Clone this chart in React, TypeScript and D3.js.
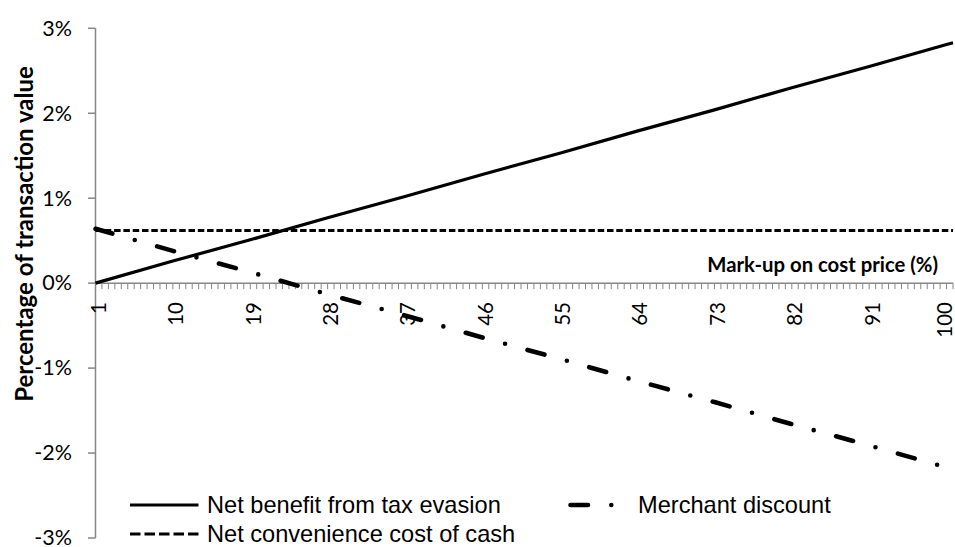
import * as d3 from 'd3';

const markupPoints = [1, 10, 19, 28, 37, 46, 55, 64, 73, 82, 91, 100, 100.75];
const markupLabels = [1, 10, 19, 28, 37, 46, 55, 64, 73, 82, 91, 100];

// series, in percent of transaction value
const netBenefit = [0.0, 0.26, 0.51, 0.77, 1.02, 1.28, 1.53, 1.79, 2.04, 2.3, 2.55, 2.81, 2.83];
const merchantDiscount = [0.64, 0.38, 0.13, -0.13, -0.38, -0.64, -0.89, -1.15, -1.4, -1.66, -1.91, -2.17, -2.19];
const convenienceCost = [0.62, 0.62, 0.62, 0.62, 0.62, 0.62, 0.62, 0.62, 0.62, 0.62, 0.62, 0.62, 0.62];

const yTicks = [3, 2, 1, 0, -1, -2, -3];

const W = 955;
const H = 547;
const axisX = 95.5;
const plotTop = 28.3;
const plotBottom = 538;
const xStart = 95.5;
const xEnd = 953;

const axisColor = '#868686';
const calibri = 'Lato, "Open Sans", sans-serif';
const arial = '"Liberation Sans", Arial, sans-serif';

const mdDash = '17.5 23.3 0 23.3';

export default function App() {
    const x = d3.scaleLinear().domain([1, 100.75]).range([xStart, xEnd]);
    const y = d3.scaleLinear().domain([-3, 3]).range([plotBottom, plotTop]);

    const line = (vals: number[]) =>
        d3.line<number>()
            .x((_, i) => x(markupPoints[i]))
            .y((d) => y(d))(vals) || '';

    const minorTicks = d3.range(1, 100.76, 0.75);
    const zeroY = y(0);

    const row1 = 505;
    const row2 = 534;

    return (
        <svg width={W} height={H} style={{ position: 'absolute', left: 0, top: 0, background: '#fff' }}>
            {/* y axis */}
            <line x1={axisX} x2={axisX} y1={plotTop} y2={plotBottom} stroke={axisColor} strokeWidth={1.5} />
            {yTicks.map((t) => (
                <g key={t}>
                    <line x1={88} x2={axisX} y1={y(t)} y2={y(t)} stroke={axisColor} strokeWidth={1.5} />
                    <text x={72} y={y(t)} dy="0.34em" textAnchor="end" fontFamily={calibri} fontSize={21.5} fill="#000">
                        {`${t}%`}
                    </text>
                </g>
            ))}
            <text
                transform={`translate(24.5, 234) rotate(-90)`}
                textAnchor="middle"
                dy="0.36em"
                fontFamily={calibri}
                fontWeight="bold"
                fontSize={24}
                fill="#000"
            >
                Percentage of transaction value
            </text>

            {/* x axis */}
            <line x1={axisX} x2={xEnd} y1={zeroY} y2={zeroY} stroke={axisColor} strokeWidth={1.5} />
            {minorTicks.map((t) => (
                <line key={t} x1={x(t)} x2={x(t)} y1={zeroY} y2={zeroY + 6} stroke={axisColor} strokeWidth={1} />
            ))}
            {markupLabels.map((t) => (
                <text
                    key={t}
                    transform={`translate(${Math.min(x(t) + 3, 944.5)}, 302) rotate(-90)`}
                    textAnchor="end"
                    dy="0.36em"
                    fontFamily={calibri}
                    fontSize={20.5}
                    fill="#000"
                >
                    {t}
                </text>
            ))}
            <text x={938} y={265} dy="0.36em" textAnchor="end" fontFamily={calibri} fontWeight="bold" fontSize={20.3} fill="#000">
                Mark-up on cost price (%)
            </text>

            {/* series */}
            <path d={line(convenienceCost)} fill="none" stroke="#000" strokeWidth={3} strokeDasharray="6.5 2.8" />
            <path d={line(netBenefit)} fill="none" stroke="#000" strokeWidth={3.2} />
            <path
                d={line(merchantDiscount)}
                fill="none"
                stroke="#000"
                strokeWidth={4.6}
                strokeLinecap="round"
                strokeDasharray={mdDash}
            />

            {/* legend */}
            <line x1={130} x2={198.5} y1={row1} y2={row1} stroke="#000" strokeWidth={3} />
            <text x={207} y={row1} dy="0.36em" fontFamily={arial} fontSize={23.6} fill="#000">
                Net benefit from tax evasion
            </text>
            <line x1={570.5} x2={634.5} y1={row1} y2={row1} stroke="#000" strokeWidth={4.6} strokeLinecap="round" strokeDasharray={mdDash} />
            <text x={638} y={row1} dy="0.36em" fontFamily={arial} fontSize={23.6} fill="#000">
                Merchant discount
            </text>
            <line x1={130} x2={198.5} y1={row2} y2={row2} stroke="#000" strokeWidth={3} strokeDasharray="10.5 4" />
            <text x={207} y={row2} dy="0.34em" fontFamily={arial} fontSize={23.6} fill="#000">
                Net convenience cost of cash
            </text>
        </svg>
    );
}
